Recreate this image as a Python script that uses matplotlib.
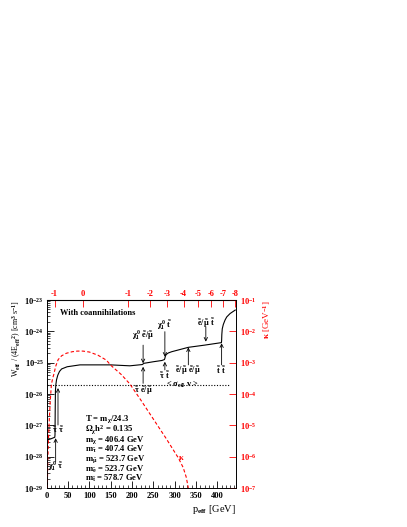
import numpy as np
import matplotlib
matplotlib.use('Agg')
import matplotlib.pyplot as plt
from matplotlib.ticker import MultipleLocator, LogLocator, NullFormatter, NullLocator

plt.rcParams['font.family'] = ['Liberation Serif', 'DejaVu Serif']
plt.rcParams['font.weight'] = 'bold'
plt.rcParams['mathtext.fontset'] = 'custom'
plt.rcParams['mathtext.rm'] = 'Liberation Serif:bold'
plt.rcParams['mathtext.it'] = 'Liberation Serif:bold'
plt.rcParams['mathtext.bf'] = 'Liberation Serif:bold'
plt.rcParams['mathtext.sf'] = 'Liberation Serif:bold'

# ---------------- data ----------------
# W_eff / (4 E_eff^2) curve, log10 values
p_w = [0, 10, 19, 19.5, 20, 20.5, 21.5, 23, 26, 30, 35, 48, 78, 150, 195, 224, 228,
       250, 270, 276, 277, 278, 280, 285, 293, 332, 370, 409.5, 410, 410.5, 411.5,
       414, 418, 422, 430, 442]
logw = [-27.47, -27.43, -27.38, -27.3, -26.5, -25.9, -25.7, -25.55, -25.4, -25.28,
        -25.2, -25.13, -25.07, -25.07, -25.1, -25.06, -25.02,
        -24.97, -24.93, -24.9, -24.86, -24.8, -24.74, -24.69, -24.65, -24.51, -24.44,
        -24.36, -24.3, -24.1, -23.92, -23.78, -23.64, -23.54, -23.43, -23.32]

# kappa curve, log10 values [GeV^-1]
p_k = [1.5, 2.5, 4, 6, 8.5, 11, 14, 17, 21, 27, 35, 46, 60, 72, 85, 100, 120, 140,
       150, 175, 195, 220, 250, 280, 309, 320, 327, 332]
logk = [-7.0, -6.2, -5.5, -4.85, -4.2, -3.7, -3.5, -3.36, -3.12, -2.9, -2.78, -2.7,
        -2.65, -2.63, -2.63, -2.66, -2.76, -2.92, -3.08, -3.38, -3.68, -4.18, -4.8,
        -5.42, -6.05, -6.35, -6.65, -7.0]

sigma_v = 1.95e-26
sigma_p = [0, 429]

# thresholds: x position, arrow start, arrow end (log10 W), label, label y (log10 W)
thr_p = [21, 26.5, 226, 226, 277, 277, 332, 373, 410]
thr_from = [-28.16, -26.99, -24.44, -25.66, -24.01, -25.23, -25.07, -23.85, -25.07]
thr_to = [-27.41, -25.81, -25.02, -25.13, -24.81, -24.97, -24.51, -24.33, -24.38]
thr_lab = [r'$\chi_1^0\ \tilde{\tau}$', r'$\tilde{\tau}\ \tilde{\tau}$',
           r'$\chi_1^0\ \tilde{e}/\tilde{\mu}$', r'$\tilde{\tau}\ \tilde{e}/\tilde{\mu}$',
           r'$\chi_1^0\ \tilde{t}$', r'$\tilde{\tau}\ \tilde{t}$',
           r'$\tilde{e}/\tilde{\mu}\ \tilde{e}/\tilde{\mu}$', r'$\tilde{e}/\tilde{\mu}\ \tilde{t}$',
           r'$\tilde{t}\ \tilde{t}$']
thr_laby = [-28.32, -27.15, -24.14, -25.88, -23.80, -25.40, -25.24, -23.73, -25.24]

top_ticks = [18.7, 84.4, 190.5, 242, 283, 321, 354, 385, 413, 441]
top_labels = ['-1', '0', '-1', '-2', '-3', '-4', '-5', '-6', '-7', '-8']

params = [r'T = m$_{\chi}$/24.3',
          r'$\Omega_{\chi}$h$^{2}$ = 0.135',
          r'm$_{\chi}$ = 406.4 GeV',
          r'm$_{\tilde{\tau}}$ = 407.4 GeV',
          r'm$_{\tilde{\mu}}$ = 523.7 GeV',
          r'm$_{\tilde{e}}$ = 523.7 GeV',
          r'm$_{\tilde{t}}$ = 578.7 GeV']

# ---------------- figure ----------------
fig = plt.figure(figsize=(4.07, 5.27), dpi=100)
ax = fig.add_axes([0.1147, 0.0740, 0.4644, 0.3567])
fs = 6

ax.set_yscale('log')
ax.set_xlim(0, 443)
ax.set_ylim(1e-29, 1e-23)

ax.plot(p_w, 10 ** np.array(logw), color='black', lw=0.8)
ax.plot(sigma_p, [sigma_v, sigma_v], color='black', lw=0.8, ls=(0, (1, 1.5)))

ax2 = ax.twinx()
ax2.set_yscale('log')
ax2.set_ylim(1e-7, 1e-1)
ax2.plot(p_k, 10 ** np.array(logk), color='red', lw=0.8, ls=(0, (3, 2)))

for x, f, t, lab, ly in zip(thr_p, thr_from, thr_to, thr_lab, thr_laby):
    ax.annotate('', xy=(x, 10 ** t), xytext=(x, 10 ** f),
                arrowprops=dict(arrowstyle='->', lw=0.6, color='black',
                                shrinkA=0, shrinkB=0, mutation_scale=6))
    ax.text(x, 10 ** ly, lab, ha='center', va='center', fontsize=fs)

ax.text(317, sigma_v, r'< $\sigma_{eff}$ v >', ha='center', va='center', fontsize=fs)

ax.text(0.07, 0.932, 'With coannihilations', transform=ax.transAxes, fontsize=fs,
        ha='left', va='center')

ax.text((85 - 46.7) / 189.0, 1 - (413 - 300) / 188.0, '\n'.join(params),
        transform=ax.transAxes, fontsize=6.2, ha='left', va='top', linespacing=0.78)

ax2.text(316, 10 ** -6.05, r'$\kappa$', color='red', fontsize=fs, ha='center', va='center')

# axes styling
ax.set_xticks([0, 50, 100, 150, 200, 250, 300, 350, 400])
ax.xaxis.set_minor_locator(MultipleLocator(10))
ax.yaxis.set_major_locator(LogLocator(base=10, numticks=20))
ax.yaxis.set_minor_locator(LogLocator(base=10, subs=np.arange(2, 10), numticks=20))
ax.yaxis.set_minor_formatter(NullFormatter())
ax.tick_params(axis='both', which='major', direction='in', length=5, width=0.6,
               labelsize=fs, pad=2)
ax.tick_params(axis='both', which='minor', direction='in', length=2.5, width=0.5)
ax.tick_params(axis='x', top=False, pad=3)
ax.tick_params(axis='y', right=False)

ax2.yaxis.set_major_locator(LogLocator(base=10, numticks=20))
ax2.yaxis.set_minor_locator(NullLocator())
ax2.tick_params(axis='y', which='major', direction='in', length=5, width=0.6,
                colors='red', labelsize=fs, pad=3)

axt = ax.secondary_xaxis('top')
axt.set_xticks(top_ticks)
axt.set_xticklabels(top_labels)
axt.tick_params(axis='x', direction='in', length=5, width=0.6, colors='red',
                labelsize=fs, pad=1.5)
axt.spines['top'].set_color('black')

for sp in ax.spines.values():
    sp.set_linewidth(0.6)
for sp in ax2.spines.values():
    sp.set_linewidth(0.6)

ax.set_xlabel(r'p$_{eff}$ [GeV]', loc='right', fontsize=7.5, labelpad=2)
ax.set_ylabel(r'W$_{eff}$ / (4E$_{eff}$$^{2}$) [cm$^{3}$ s$^{-1}$]', loc='top',
              fontsize=5.8, labelpad=1)
ax2.set_ylabel(r'$\kappa$ [GeV$^{-1}$]', loc='top', color='red', fontsize=6.5,
               rotation=90, labelpad=3)

fig.savefig('out.png', dpi=100)
